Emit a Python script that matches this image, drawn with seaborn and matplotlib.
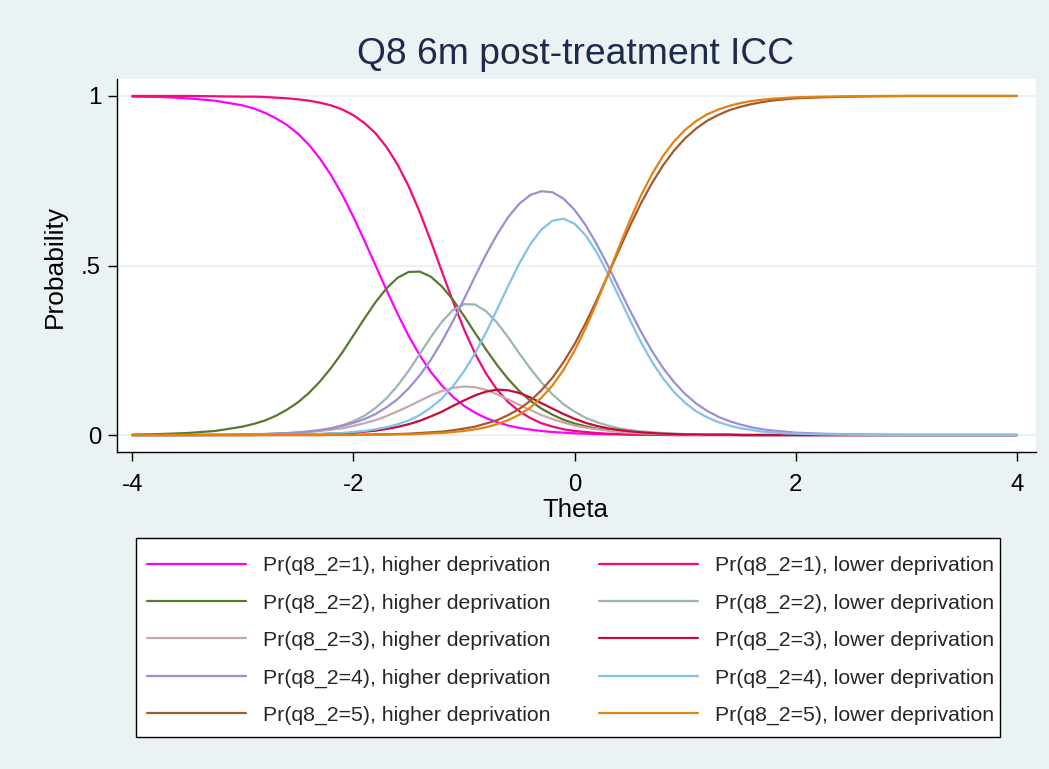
import matplotlib
matplotlib.use("Agg")
import matplotlib.pyplot as plt
from matplotlib.patches import Rectangle
import pandas as pd
import seaborn as sns

# Item characteristic curves for item q8_2, six months post-treatment
theta = [-4.0, -3.75, -3.5, -3.25,
         -3.0, -2.9, -2.8, -2.7, -2.6, -2.5, -2.4, -2.3, -2.2,
         -2.1, -2.0, -1.9, -1.8, -1.7, -1.6, -1.5, -1.4, -1.3, -1.2, -1.1, -1.0,
         -0.9, -0.8, -0.7, -0.6, -0.5, -0.4, -0.3, -0.2, -0.1, 0.0,
         0.1, 0.2, 0.3, 0.4, 0.5, 0.6, 0.7, 0.8, 0.9, 1.0,
         1.1, 1.2, 1.3, 1.4, 1.5, 1.6, 1.7, 1.8, 1.9, 2.0,
         2.25, 2.5, 2.75, 3.0, 3.5, 4.0]

# Higher deprivation group
hd_p1 = [.998, .997, .993, .986,
         .972, .963, .950, .934, .914, .888, .855, .814, .765,
         .708, .643, .573, .500, .427, .357, .292, .235, .186, .146, .113, .086,
         .066, .050, .038, .028, .021, .016, .012, .009, .007, .005,
         .004, .003, .002, .002, .001, .001, .001, 0, 0, 0,
         0, 0, 0, 0, 0, 0, 0, 0, 0, 0,
         0, 0, 0, 0, 0, 0]
hd_p2 = [.001, .003, .006, .012,
         .025, .033, .043, .057, .075, .097, .125, .159, .199,
         .244, .294, .344, .392, .433, .464, .481, .482, .467, .438, .399, .351,
         .301, .252, .206, .165, .130, .101, .078, .060, .045, .034,
         .026, .019, .015, .011, .008, .006, .005, .003, .003, .002,
         .001, .001, .001, .001, 0, 0, 0, 0, 0, 0,
         0, 0, 0, 0, 0, 0]
hd_p3 = [0, 0, 0, .001,
         .002, .002, .003, .004, .005, .007, .009, .012, .016,
         .020, .027, .035, .044, .056, .070, .085, .101, .117, .130, .139, .143,
         .141, .133, .120, .105, .089, .074, .059, .047, .037, .028,
         .022, .017, .013, .009, .007, .005, .004, .003, .002, .002,
         .001, .001, .001, .001, 0, 0, 0, 0, 0, 0,
         0, 0, 0, 0, 0, 0]
hd_p4 = [0, 0, 0, .001,
         .002, .003, .003, .005, .006, .008, .011, .015, .020,
         .027, .036, .047, .062, .082, .106, .138, .176, .222, .276, .336, .401,
         .468, .533, .592, .643, .682, .708, .719, .716, .697, .664,
         .619, .563, .501, .434, .368, .305, .248, .198, .156, .121,
         .093, .071, .054, .041, .031, .023, .017, .013, .010, .007,
         .004, .002, .001, 0, 0, 0]
hd_p5 = [0, 0, 0, 0,
         0, 0, 0, 0, 0, 0, 0, 0, .001,
         .001, .001, .001, .002, .002, .003, .004, .006, .008, .010, .014, .019,
         .025, .034, .044, .059, .077, .101, .132, .169, .215, .268,
         .330, .398, .471, .544, .616, .683, .743, .795, .839, .875,
         .904, .927, .944, .958, .968, .976, .982, .987, .990, .993,
         .996, .998, .999, 1, 1, 1]

# Lower deprivation group
ld_p1 = [1, 1, 1, .999,
         .998, .998, .997, .995, .993, .990, .986, .980, .972,
         .960, .943, .920, .890, .849, .797, .733, .657, .572, .482, .394, .312,
         .240, .181, .133, .097, .070, .050, .035, .025, .017, .012,
         .009, .006, .004, .003, .002, .001, .001, .001, 0, 0,
         0, 0, 0, 0, 0, 0, 0, 0, 0, 0,
         0, 0, 0, 0, 0, 0]
ld_p2 = [0, 0, 0, 0,
         .001, .001, .002, .003, .005, .007, .010, .014, .020,
         .029, .041, .057, .080, .109, .146, .190, .239, .289, .334, .369, .386,
         .385, .365, .331, .288, .241, .196, .155, .120, .091, .069,
         .051, .038, .028, .020, .015, .011, .008, .006, .004, .003,
         .002, .002, .001, .001, .001, 0, 0, 0, 0, 0,
         0, 0, 0, 0, 0, 0]
ld_p3 = [0, 0, 0, 0,
         0, 0, .001, .001, .001, .001, .002, .003, .004,
         .005, .007, .010, .013, .018, .024, .032, .042, .055, .069, .086, .102,
         .117, .128, .134, .132, .124, .111, .094, .078, .062, .048,
         .036, .027, .020, .015, .011, .008, .006, .004, .003, .002,
         .002, .001, .001, .001, 0, 0, 0, 0, 0, 0,
         0, 0, 0, 0, 0, 0]
ld_p4 = [0, 0, 0, 0,
         0, 0, .001, .001, .001, .002, .002, .003, .005,
         .006, .009, .012, .017, .023, .032, .043, .059, .081, .108, .144, .188,
         .241, .303, .371, .440, .506, .563, .606, .632, .638, .623,
         .589, .539, .477, .409, .340, .274, .216, .167, .127, .095,
         .070, .052, .038, .028, .020, .015, .010, .008, .005, .004,
         .002, .001, 0, 0, 0, 0]
ld_p5 = [0, 0, 0, 0,
         0, 0, 0, 0, 0, 0, 0, 0, 0,
         0, 0, .001, .001, .001, .002, .002, .003, .005, .006, .009, .012,
         .017, .023, .032, .044, .060, .081, .110, .146, .192, .249,
         .315, .390, .471, .553, .633, .706, .769, .823, .866, .900,
         .926, .946, .960, .971, .979, .985, .989, .992, .994, .996,
         .998, .999, 1, 1, 1, 1]

categories = [1, 2, 3, 4, 5]
groups = ["higher deprivation", "lower deprivation"]
series = {
    "higher deprivation": [hd_p1, hd_p2, hd_p3, hd_p4, hd_p5],
    "lower deprivation": [ld_p1, ld_p2, ld_p3, ld_p4, ld_p5],
}
colors = {
    "higher deprivation": ["#FF00FF", "#587A2E", "#C6A9A4", "#9A8FD3", "#A5582F"],
    "lower deprivation": ["#F5087A", "#9AB6AF", "#C40C3A", "#84C1E8", "#E3830F"],
}

# Long table: one row per curve point
rows = []
draw_order = []
palette = {}
for k in categories:
    for g in groups:
        name = f"Pr(q8_2={k}), {g}"
        draw_order.append(name)
        palette[name] = colors[g][k - 1]
        for t, p in zip(theta, series[g][k - 1]):
            rows.append({"theta": t, "prob": p, "curve": name})
df = pd.DataFrame(rows)

sns.set_style("white")
plt.rcParams["font.family"] = ["Liberation Sans", "DejaVu Sans"]

BG = "#EAF2F3"
W, H = 1049, 769
LW = 1.6
fig = plt.figure(figsize=(W / 100, H / 100), dpi=100, facecolor=BG)
ax = fig.add_axes([117 / W, 1 - 452 / H, (1036 - 117) / W, (452 - 79) / H])
ax.set_facecolor("white")

sns.lineplot(data=df, x="theta", y="prob", hue="curve", hue_order=draw_order,
             palette=palette, estimator=None, sort=True, linewidth=LW, ax=ax)

handles, labels = ax.get_legend_handles_labels()
ax.get_legend().remove()
lookup = dict(zip(labels, handles))
legend_order = [f"Pr(q8_2={k}), {groups[0]}" for k in categories] + \
               [f"Pr(q8_2={k}), {groups[1]}" for k in categories]

# Legend box drawn as a plain rectangle, entries placed inside it
box = Rectangle((135.6 / W, 1 - 737 / H), (1000 - 135.6) / W, (737 - 538) / H,
                transform=fig.transFigure, facecolor="white", edgecolor="black",
                linewidth=1.0, zorder=2)
fig.add_artist(box)
leg = fig.legend([lookup[n] for n in legend_order], legend_order, ncol=2,
                 loc="upper left", bbox_to_anchor=(147 / W, 1 - 556 / H),
                 frameon=False, fontsize=15.3, handlelength=4.65,
                 handletextpad=0.8, columnspacing=2.31, labelspacing=0.856,
                 borderpad=0, borderaxespad=0)
leg.set_zorder(3)
for line in leg.get_lines():
    line.set_linewidth(LW)

ax.set_xlim(-4.139, 4.174)
ax.set_ylim(-0.050, 1.050)
ax.set_xticks([-4, -2, 0, 2, 4])
ax.set_xticklabels(["-4", "-2", "0", "2", "4"])
ax.set_yticks([0, 0.5, 1])
ax.set_yticklabels(["0", ".5", "1"])
ax.tick_params(axis="both", direction="out", length=6.5, width=1.0, color="black",
               labelsize=17.3, labelcolor="black", left=True, bottom=True)
ax.tick_params(axis="x", pad=9.5)
ax.tick_params(axis="y", pad=5)

ax.yaxis.grid(True, color=BG, linewidth=1.6)
ax.xaxis.grid(False)
ax.set_axisbelow(True)
for side in ("top", "right"):
    ax.spines[side].set_visible(False)
for side in ("left", "bottom"):
    ax.spines[side].set_color("black")
    ax.spines[side].set_linewidth(1.0)

ax.set_xlabel("Theta", fontsize=18.5, color="black")
ax.set_ylabel("Probability", fontsize=19, color="black")
ax.xaxis.set_label_coords((575 - 117) / 919, (452 - 510) / 373)
ax.xaxis.label.set_verticalalignment("center")
ax.yaxis.set_label_coords((55 - 117) / 919, (452 - 266) / 373)
ax.yaxis.label.set_verticalalignment("center")

fig.text(575.5 / W, 1 - 55 / H, "Q8 6m post-treatment ICC", ha="center", va="center",
         fontsize=26.8, color="#1E2A4A")

fig.savefig("out.png", dpi=100, facecolor=BG)
